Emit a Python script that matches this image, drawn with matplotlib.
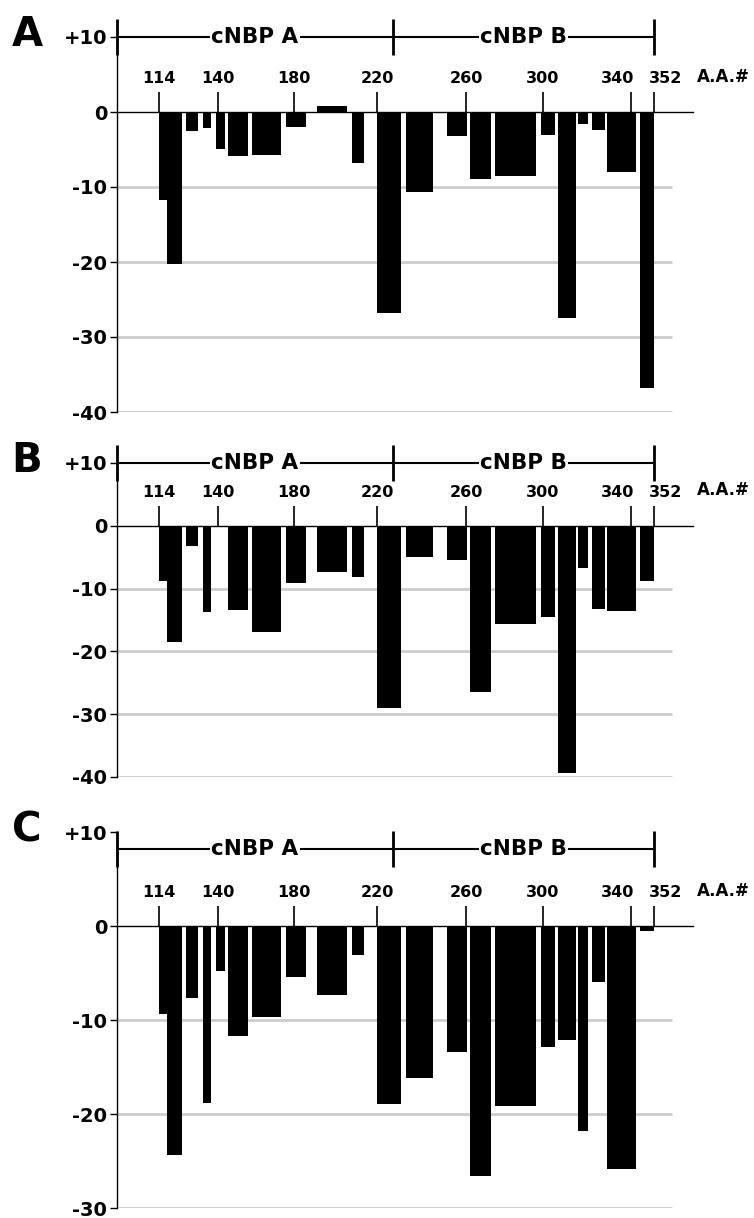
import numpy as np
import matplotlib
matplotlib.use('Agg')
import matplotlib.pyplot as plt
import matplotlib.transforms as mtransforms

plt.rcParams['font.family'] = ['DejaVu Sans']
plt.rcParams['font.weight'] = 'bold'

# ---------------- data ----------------
tick_aa = [114, 140, 180, 220, 260, 300, 340, 352]
tick_labels = ['114', '140', '180', '220', '260', '300', '340', '352']

bar_start = [114, 117.5, 126, 133.5, 139, 145.5, 158, 176, 191, 208,
             220, 233, 251.5, 262, 275, 299, 307, 316, 322.5, 329, 344.5]
bar_end = [117.5, 124, 131, 137, 143.5, 156, 173, 186, 205.5, 213.5,
           231, 245, 260.5, 273, 296.5, 305.5, 315, 320.5, 328, 342.5, 352]

vals_A = [-11.7, -20.2, -2.5, -2.1, -4.9, -5.9, -5.7, -2.0, 0.8, -6.8,
          -26.8, -10.6, -3.2, -8.9, -8.5, -3.0, -27.4, -1.6, -2.4, -8.0, -36.8]
vals_B = [-8.8, -18.5, -3.2, -13.8, -0.2, -13.4, -16.9, -9.1, -7.4, -8.1,
          -29.0, -5.0, -5.4, -26.4, -15.6, -14.6, -39.3, -6.7, -13.3, -13.5, -8.8]
vals_C = [-9.4, -24.4, -7.7, -18.8, -4.8, -11.7, -9.7, -5.4, -7.3, -3.1,
          -18.9, -16.2, -13.4, -26.6, -19.2, -12.9, -12.1, -21.8, -6.0, -25.9, -0.5]

panel_names = ['A', 'B', 'C']
domain_names = ['cNBP A', 'cNBP B']
domain_split = 227
domain_end = 352
y_bottoms = [-40, -40, -30]
x_axis_label = 'A.A.#'

# ---------------- layout ----------------
W, H = 754, 1218
fig = plt.figure(figsize=(W / 100, H / 100), dpi=100)

# piecewise-linear x scale (aa -> drawing position)
AA_KNOTS = np.array([94, 114, 140, 180, 220, 260, 300, 340, 352, 371], float)
POS_KNOTS = np.array([117, 159, 218, 294, 377, 466, 543, 631, 654, 693], float)


def fwd(x):
    x = np.asarray(x, float)
    return np.interp(x, AA_KNOTS, POS_KNOTS)


def inv(p):
    p = np.asarray(p, float)
    return np.interp(p, POS_KNOTS, AA_KNOTS)


XMIN, XMAX = 94, 371
GRID_END = 361

panel_px = [(37, 412), (463, 777), (832, 1208)]
bracket_y = [10, 10, 8.2]
LEFT_PX, RIGHT_PX = 117, 693
# horizontal nudges (px) for crowded tick labels
label_nudge = {'340': -13, '352': 12}

all_vals = [vals_A, vals_B, vals_C]

for i, (name, vals) in enumerate(zip(panel_names, all_vals)):
    top_px, bot_px = panel_px[i]
    ax = fig.add_axes([LEFT_PX / W, 1 - bot_px / H,
                       (RIGHT_PX - LEFT_PX) / W, (bot_px - top_px) / H])
    ax.set_xscale('function', functions=(fwd, inv))
    ax.set_xlim(XMIN, XMAX)
    ybot = y_bottoms[i]
    ax.set_ylim(ybot, 10)

    # gridlines
    grid_levels = np.arange(-10, ybot - 1, -10)
    ax.hlines(grid_levels, XMIN, GRID_END, color='#cccccc', lw=2, zorder=0)

    # bars
    starts = np.array(bar_start)
    widths = np.array(bar_end) - starts
    ax.bar(starts, vals, width=widths, align='edge', color='black',
           linewidth=0, zorder=2)

    # spines
    ax.spines['right'].set_visible(False)
    ax.spines['bottom'].set_visible(False)
    ax.spines['top'].set_position(('data', 0))
    ax.spines['top'].set_linewidth(1.0)
    ax.spines['top'].set_zorder(3)
    ax.spines['left'].set_linewidth(1.0)

    # x ticks on top spine (at zero)
    ax.xaxis.tick_top()
    ax.set_xticks(tick_aa)
    ax.set_xticklabels(tick_labels)
    ax.xaxis.set_minor_locator(matplotlib.ticker.NullLocator())
    ax.tick_params(axis='x', which='major', direction='out', length=14.5,
                   width=1.2, pad=4, labelsize=11.5)
    for lab in ax.get_xticklabels():
        lab.set_fontweight('bold')
        dx = label_nudge.get(lab.get_text(), 0)
        if dx:
            lab.set_transform(lab.get_transform() +
                              mtransforms.ScaledTranslation(dx / 100, 0,
                                                            fig.dpi_scale_trans))

    # y ticks
    yt = np.arange(10, ybot - 1, -10)
    ax.set_yticks(yt)
    ax.set_yticklabels(['+10' if v > 0 else f'{int(v)}' for v in yt])
    ax.tick_params(axis='y', direction='out', length=5, width=1, pad=2,
                   labelsize=14)
    for lab in ax.get_yticklabels():
        lab.set_fontweight('bold')

    # A.A.# label
    blend = mtransforms.blended_transform_factory(ax.transAxes, ax.transData)
    ax.annotate(x_axis_label, xy=(1.0, 0), xycoords=blend,
                xytext=(21.5, 25.5), textcoords='offset points',
                ha='center', va='center', fontsize=12, fontweight='bold',
                annotation_clip=False)

    # domain bracket
    by = bracket_y[i]
    ax.plot([XMIN, domain_end], [by, by], color='black', lw=1.5,
            clip_on=False, zorder=4, solid_capstyle='butt')
    ax.plot([XMIN, domain_split, domain_end], [by] * 3, linestyle='none',
            marker='|', markersize=26, markeredgewidth=2.0, color='black',
            clip_on=False, zorder=4)
    spans = [(XMIN, domain_split), (domain_split, domain_end)]
    for dn, (a, b) in zip(domain_names, spans):
        cx = float(inv((fwd(a) + fwd(b)) / 2))
        ax.text(cx, by, dn, ha='center', va='center', fontsize=15.5,
                fontweight='bold', zorder=5, clip_on=False,
                bbox=dict(facecolor='white', edgecolor='none', pad=1.0))

    # panel letter
    fig.text(27 / W, 1 - (top_px - 2) / H, name, ha='center', va='center',
             fontsize=29, fontweight='bold')

fig.savefig('out.png', dpi=100)
